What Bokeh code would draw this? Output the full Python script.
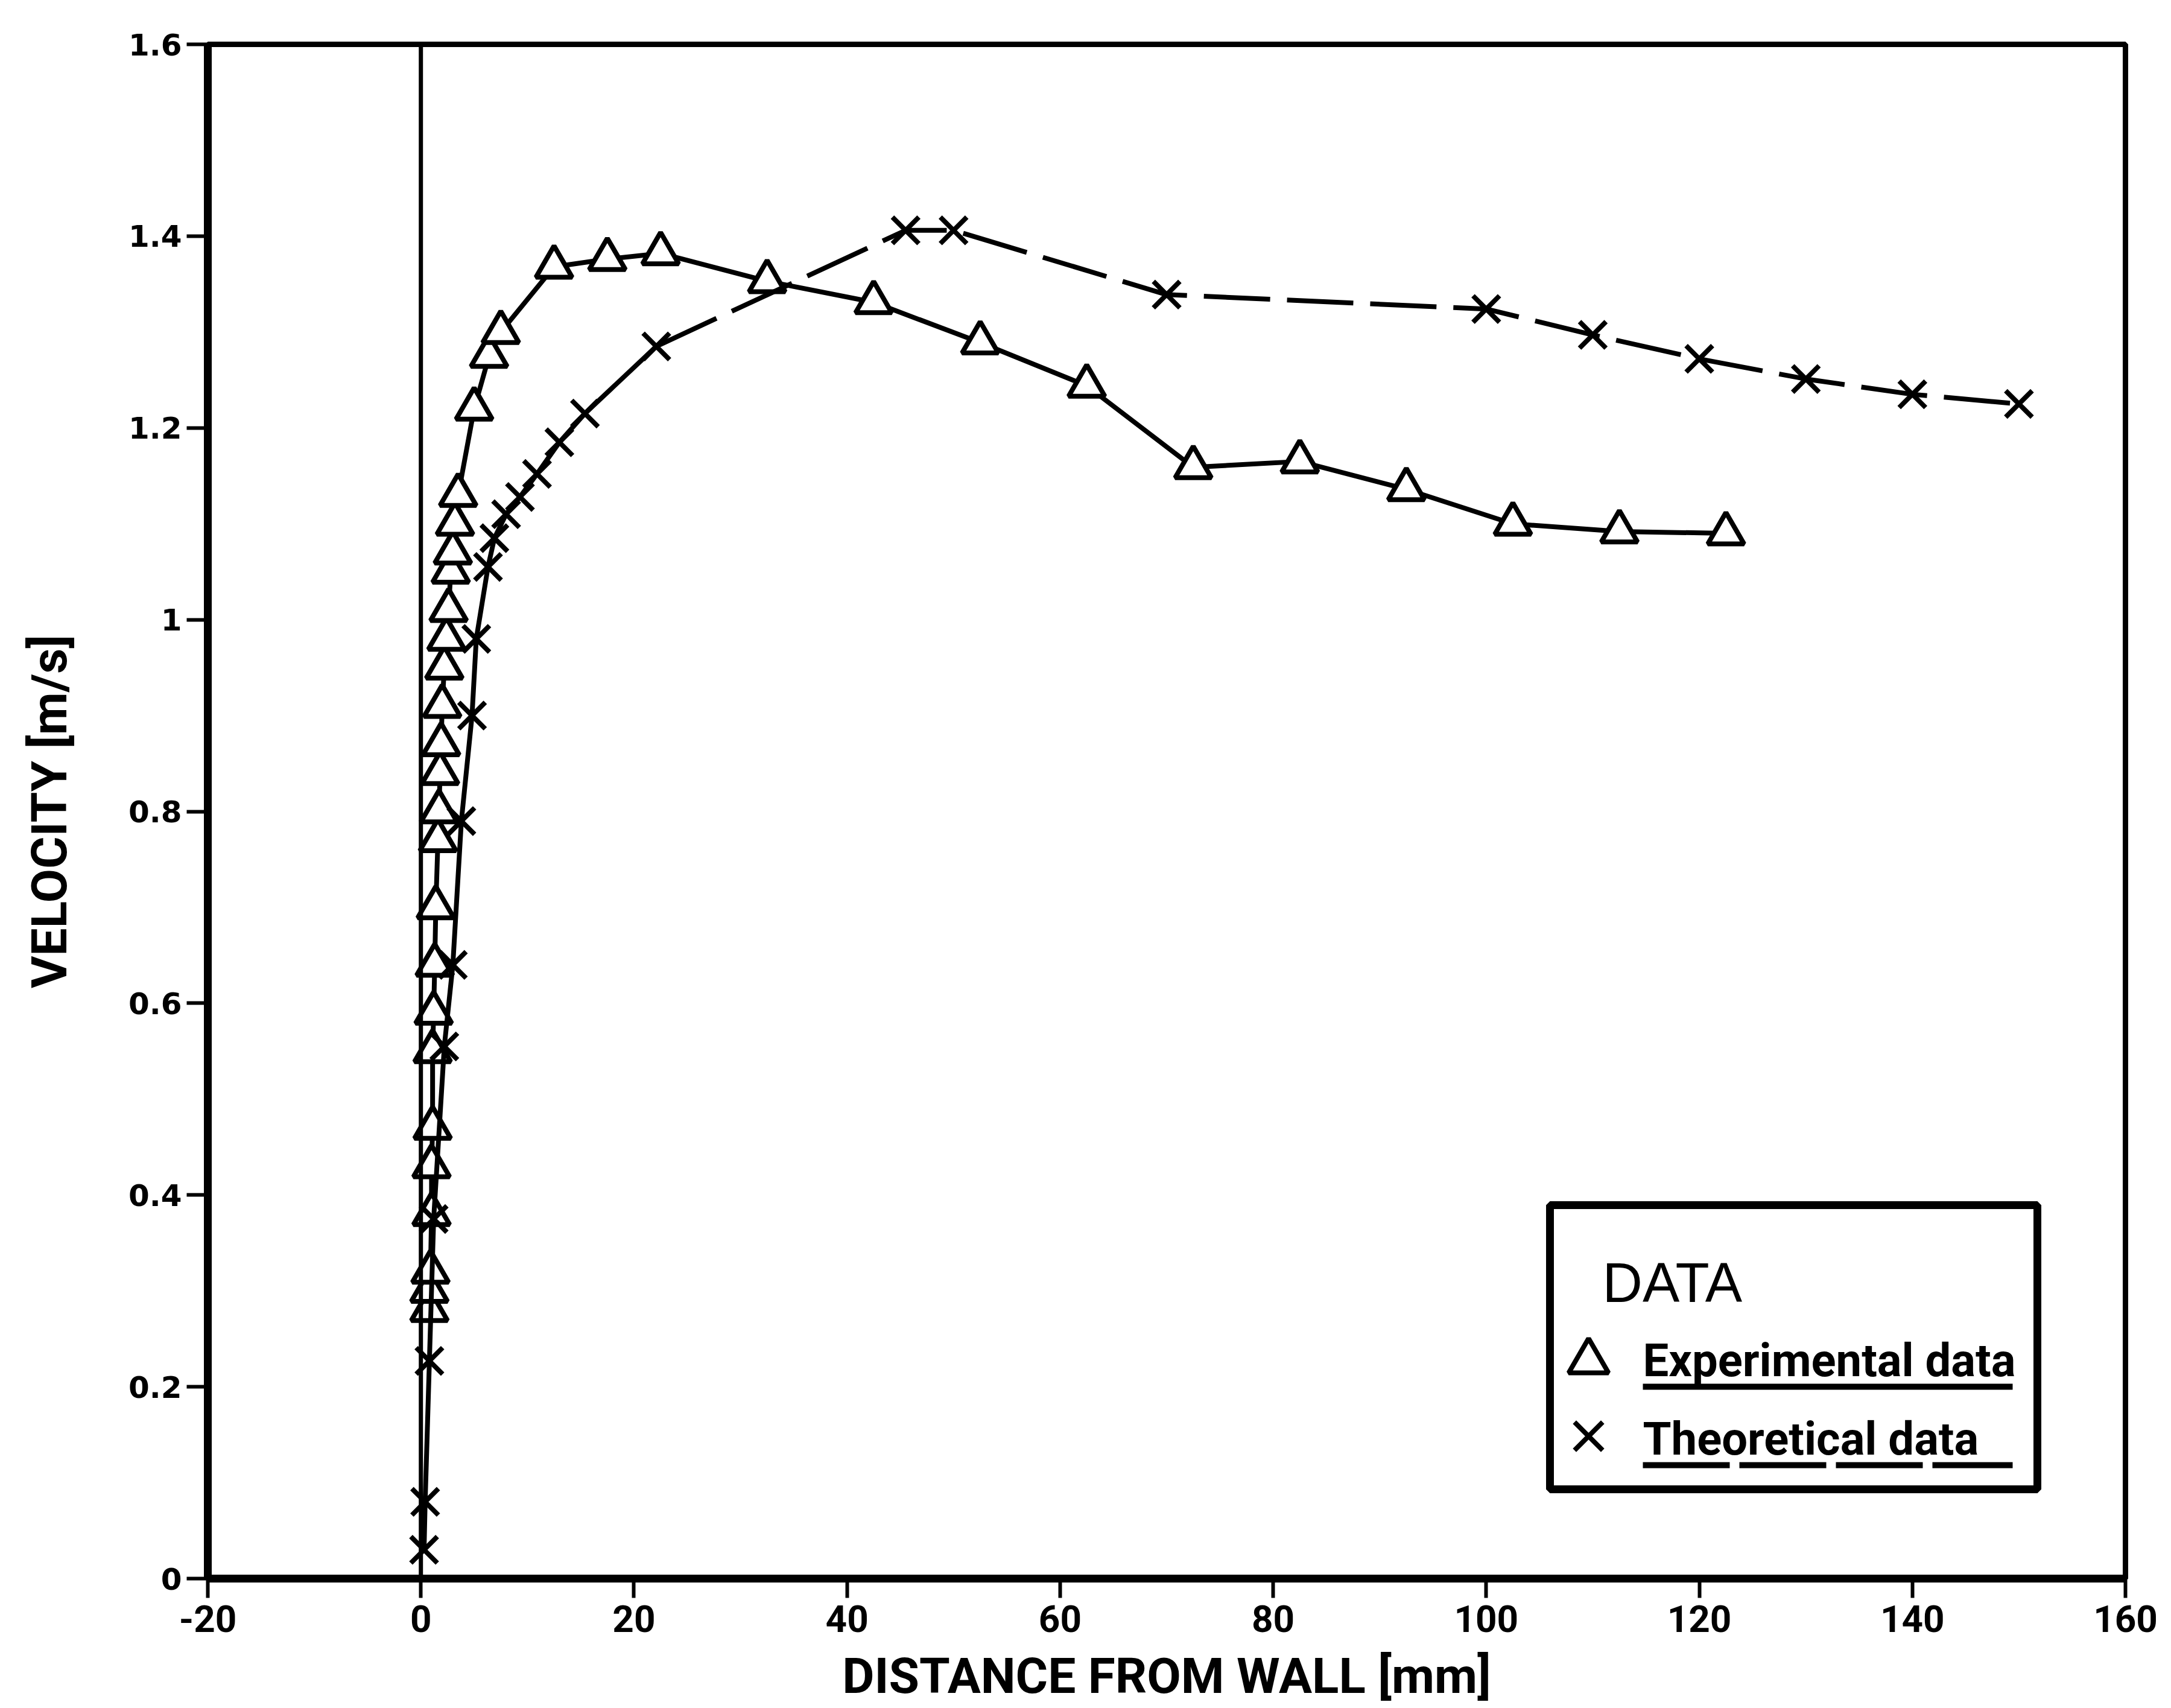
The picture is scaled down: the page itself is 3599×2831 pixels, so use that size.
from bokeh.plotting import figure
from bokeh.models import FixedTicker, Span, Label, Range1d
from bokeh.embed import file_html
from bokeh.resources import INLINE

# Velocity profile measured / computed as a function of distance from the wall
exp_distance = [0.8, 0.8, 0.9, 1.0, 1.0, 1.1, 1.1, 1.2, 1.3, 1.4, 1.6, 1.7, 1.8,
                1.9, 2.0, 2.2, 2.4, 2.6, 2.8, 3.0, 3.2, 3.5, 5.0, 6.4, 7.5,
                12.5, 17.5, 22.5, 32.5, 42.5, 52.5, 62.5, 72.5, 82.5, 92.5,
                102.5, 112.5, 122.5]
exp_velocity = [0.28, 0.30, 0.32, 0.38, 0.43, 0.47, 0.55, 0.59, 0.64, 0.70, 0.77,
                0.80, 0.84, 0.87, 0.91, 0.95, 0.98, 1.01, 1.05, 1.07, 1.10, 1.13,
                1.22, 1.275, 1.30, 1.368, 1.376, 1.382, 1.353, 1.331, 1.289,
                1.244, 1.159, 1.165, 1.136, 1.10, 1.092, 1.090]

theo_distance = [0.3, 0.4, 0.8, 1.2, 2.2, 3.0, 3.8, 4.8, 5.2, 6.3, 6.9, 8.0, 9.3,
                 10.9, 13.0, 15.4, 22.1, 45.5, 50.0, 70.0, 100.0, 110.0, 120.0,
                 130.0, 140.0, 150.0]
theo_velocity = [0.03, 0.08, 0.227, 0.375, 0.555, 0.64, 0.79, 0.90, 0.98, 1.055,
                 1.085, 1.11, 1.128, 1.152, 1.185, 1.215, 1.285, 1.406, 1.406,
                 1.339, 1.324, 1.297, 1.272, 1.251, 1.235, 1.225]
# the computed profile is drawn solid up to this point and dashed beyond it
theo_solid_until = 16

x_ticks = [-20, 0, 20, 40, 60, 80, 100, 120, 140, 160]
x_tick_labels = ["-20", "0", "20", "40", "60", "80", "100", "120", "140", "160"]
y_ticks = [0, 0.2, 0.4, 0.6, 0.8, 1, 1.2, 1.4, 1.6]
y_tick_labels = ["0", "0.2", "0.4", "0.6", "0.8", "1", "1.2", "1.4", "1.6"]

legend_title = "DATA"
legend_labels = ["Experimental data", "Theoretical data"]

W, H = 3599, 2831
LEFT, RIGHT, TOP, BOTTOM = 344, 76, 73, 215
SANS = "Roboto"

p = figure(width=W, height=H, output_backend="svg", toolbar_location=None,
           x_range=Range1d(-20, 160), y_range=Range1d(0, 1.6),
           min_border_left=LEFT, min_border_right=RIGHT,
           min_border_top=TOP, min_border_bottom=BOTTOM)
p.background_fill_color = "white"
p.border_fill_color = "white"
p.grid.visible = False
p.outline_line_color = "black"
p.outline_line_width = 9

for ax in (p.xaxis[0], p.yaxis[0]):
    ax.axis_line_width = 13
    ax.axis_line_color = "black"
    ax.major_tick_line_width = 6
    ax.major_tick_in = 0
    ax.minor_tick_line_color = None
    ax.major_label_text_color = "black"
    ax.axis_label_text_color = "black"
    ax.axis_label_text_font = SANS
    ax.axis_label_text_font_style = "bold"
    ax.axis_label_text_font_size = "82px"

p.xaxis.ticker = FixedTicker(ticks=x_ticks)
p.xaxis.major_label_overrides = dict(zip(x_ticks, x_tick_labels))
p.xaxis.major_tick_out = 32
p.xaxis.major_label_standoff = 12
p.xaxis.major_label_text_font = SANS
p.xaxis.major_label_text_font_style = "bold"
p.xaxis.major_label_text_font_size = "62px"
p.xaxis.axis_label = "DISTANCE FROM WALL [mm]"
p.xaxis.axis_label_standoff = 22

p.yaxis.ticker = FixedTicker(ticks=y_ticks)
p.yaxis.major_label_overrides = dict(zip(y_ticks, y_tick_labels))
p.yaxis.major_tick_out = 35
p.yaxis.major_label_standoff = 8
p.yaxis.major_label_text_font = "DejaVu Sans"
p.yaxis.major_label_text_font_style = "bold"
p.yaxis.major_label_text_font_size = "50px"
p.yaxis.axis_label = "VELOCITY [m/s]"
p.yaxis.axis_label_standoff = 80

# the wall
p.add_layout(Span(location=0, dimension="height", line_color="black", line_width=7))

# experimental profile
p.line(exp_distance, exp_velocity, line_color="black", line_width=8)
p.scatter(exp_distance, exp_velocity, marker="triangle", size=60,
          fill_color="white", line_color="black", line_width=8)

# theoretical profile
p.line(theo_distance[:theo_solid_until + 1], theo_velocity[:theo_solid_until + 1],
       line_color="black", line_width=8)
p.line(theo_distance[theo_solid_until:], theo_velocity[theo_solid_until:],
       line_color="black", line_width=8, line_dash="110 28")
p.scatter(theo_distance, theo_velocity, marker="x", size=62,
          line_color="black", line_width=8)


# legend box, placed in canvas pixels and converted to data space
def fx(px):
    return -20 + (px - LEFT) / (W - LEFT - RIGHT) * 180


def fy(py):
    return (H - BOTTOM - py) / (H - TOP - BOTTOM) * 1.6


p.quad(left=[fx(2569)], right=[fx(3377)], top=[fy(1997)], bottom=[fy(2468)],
       fill_color="white", line_color="black", line_width=13)
p.add_layout(Label(x=fx(2656), y=fy(2125), text=legend_title,
                   text_font="Liberation Sans", text_font_size="92px",
                   text_color="black", text_baseline="middle", text_align="left"))
p.scatter([fx(2633)], [fy(2256)], marker="triangle", size=66,
          fill_color="white", line_color="black", line_width=8)
p.scatter([fx(2633)], [fy(2380)], marker="x", size=66,
          line_color="black", line_width=8)
for label, mid in zip(legend_labels, (2254, 2384)):
    p.add_layout(Label(x=fx(2723), y=fy(mid), text=label, text_font=SANS,
                       text_font_style="bold", text_font_size="76px",
                       text_color="black", text_baseline="middle",
                       text_align="left"))
p.line([fx(2723), fx(3336)], [fy(2298), fy(2298)], line_color="black", line_width=10)
p.line([fx(2723), fx(3336)], [fy(2428), fy(2428)], line_color="black",
       line_width=10, line_dash="144 16")

open("out.html", "w").write(file_html(p, INLINE))
